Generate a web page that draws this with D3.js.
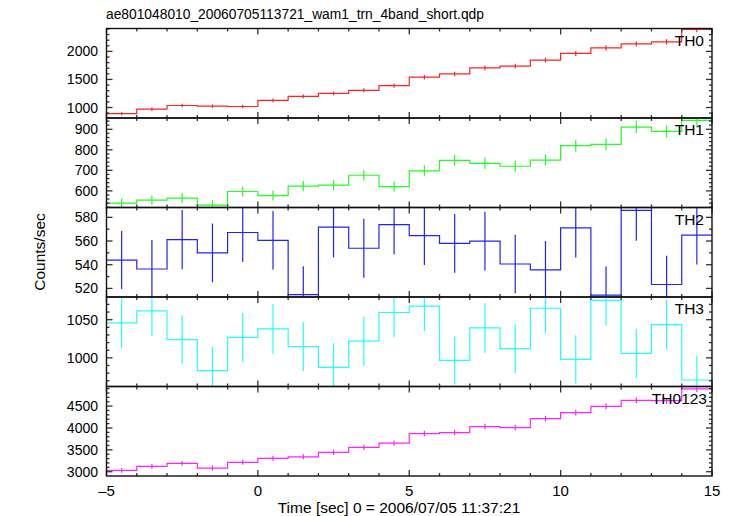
<!DOCTYPE html>
<html><head><meta charset="utf-8">
<script src="https://cdn.jsdelivr.net/npm/d3@7"></script>
<style>body{margin:0;background:#fff}svg{display:block}text{font-family:"Liberation Sans",Arial,sans-serif}</style>
</head><body><svg id="c" width="733" height="516"></svg>
<script>
const title = "ae801048010_20060705113721_wam1_trn_4band_short.qdp";
const xLabel = "Time [sec] 0 = 2006/07/05 11:37:21";
const yLabel = "Counts/sec";
const binStart = [-5,-4,-3,-2,-1,0,1,2,3,4,5,6,7,8,9,10,11,12,13,14];
const binWidth = 1;
const xTicks = [-5,0,5,10,15];

const panelNames = ["TH0","TH1","TH2","TH3","TH0123"];
const th0 = [892,970,1036,1023,1018,1126,1198,1252,1306,1389,1540,1599,1707,1738,1845,1964,2061,2133,2169,2390];
const th0Err = [30,31,32,32,32,34,35,35,36,37,39,40,41,42,43,44,45,46,47,49];
const th1 = [540,555,565,531,597,577,623,628,676,621,697,749,734,720,750,820,827,911,890,943];
const th1Err = [23,24,24,23,24,24,25,25,26,25,26,27,27,27,27,29,29,30,30,31];
const th2 = [543.9,536.4,561.1,550,567.2,560.6,514.7,571.7,553.9,573.9,564.5,558,560,540.6,535.6,571.1,514.4,585.8,523.3,565];
const th2Err = [24.5,24.5,25,24.7,25,24.7,24,25.5,24.8,25,24.8,24.8,24.8,24.6,24.5,25,24,25.5,24.3,24.8];
const th3 = [1045.7,1061.6,1023.8,983.2,1026.7,1038,1014.7,987.6,1022,1059.4,1067.7,996.6,1039.3,1012,1065,998,1075.4,1006,1043.5,971];
const th3Err = [32.5,33,32,31.5,32,32.5,32,31.5,32,32.5,33,31.5,32.5,32,33,31.5,33,32,32.5,31.5];
const th0123 = [3032,3123,3191,3084,3214,3305,3341,3441,3555,3652,3873,3895,4032,4009,4214,4350,4493,4630,4623,4895];
const th0123Err = [55,56,56,56,57,58,58,59,60,60,62,62,64,63,65,66,67,68,68,70];

const yDomains = [[813,2408],[519,955],[512.75,588.3],[962.5,1079.7],[2902,4948]];
const yMajor = [[1000,1500,2000],[600,700,800,900],[520,540,560,580],[1000,1050],[3000,3500,4000,4500]];
const yMinorStep = [100,20,10,10,100];
const colors = ["#ff2222","#22ff22","#2222ff","#22ffff","#ff22ff"];

const series = [th0,th1,th2,th3,th0123];
const errs = [th0Err,th1Err,th2Err,th3Err,th0123Err];

const svg = d3.select("#c");
const L = 106.5, R = 712, T = 28.5, B = 476;
const ph = (B - T) / 5;
const x = d3.scaleLinear().domain([-5,15]).range([L,R]);

svg.append("text").attr("x",106).attr("y",19).attr("font-size",13.8).text(title);

const defs = svg.append("defs");

series.forEach((vals,i)=>{
  const top = T + i*ph, bot = top + ph;
  const y = d3.scaleLinear().domain(yDomains[i]).range([bot, top]);
  const g = svg.append("g");
  defs.append("clipPath").attr("id","cp"+i).append("rect")
    .attr("x",L).attr("y",top).attr("width",R-L).attr("height",ph);
  const dg = g.append("g").attr("clip-path","url(#cp"+i+")");
  const pts = [];
  vals.forEach((v,k)=>{ pts.push([x(binStart[k]), y(v)]); pts.push([x(binStart[k]+binWidth), y(v)]); });
  dg.append("path").attr("d", d3.line()(pts)).attr("fill","none")
    .attr("stroke",colors[i]).attr("stroke-width",1.2);
  dg.selectAll("line.e").data(vals).join("line")
    .attr("x1",(v,k)=>x(binStart[k]+binWidth/2)).attr("x2",(v,k)=>x(binStart[k]+binWidth/2))
    .attr("y1",(v,k)=>y(v-errs[i][k])).attr("y2",(v,k)=>y(v+errs[i][k]))
    .attr("stroke",colors[i]).attr("stroke-width",1.2);
  const xt = d3.range(-5,16,1);
  xt.forEach(t=>{
    const len = (t % 5 === 0) ? 6 : 3;
    g.append("line").attr("x1",x(t)).attr("x2",x(t)).attr("y1",bot).attr("y2",bot-len).attr("stroke","#333").attr("stroke-width",1.3);
    g.append("line").attr("x1",x(t)).attr("x2",x(t)).attr("y1",top).attr("y2",top+len).attr("stroke","#333").attr("stroke-width",1.3);
  });
  const [d0,d1] = yDomains[i];
  const yt = d3.range(Math.ceil(d0/yMinorStep[i])*yMinorStep[i], d1, yMinorStep[i]);
  yt.forEach(t=>{
    const major = yMajor[i].some(m=>Math.abs(m-t)<1e-6);
    const len = major ? 6 : 3;
    g.append("line").attr("x1",L).attr("x2",L+len).attr("y1",y(t)).attr("y2",y(t)).attr("stroke","#333").attr("stroke-width",1.3);
    g.append("line").attr("x1",R).attr("x2",R-len).attr("y1",y(t)).attr("y2",y(t)).attr("stroke","#333").attr("stroke-width",1.3);
  });
  yMajor[i].forEach(t=>{
    g.append("text").attr("x",98).attr("y",y(t)).attr("dy","0.36em").attr("text-anchor","end")
      .attr("font-size",14).text(t);
  });
  g.append("rect").attr("x",L).attr("y",top).attr("width",R-L).attr("height",ph)
    .attr("fill","none").attr("stroke","#111").attr("stroke-width",1.4);
  g.append("text").attr("x",i===4?707:704).attr("y",top+17).attr("text-anchor","end")
    .attr("font-size",15.5).text(panelNames[i]);
});

xTicks.forEach(t=>{
  svg.append("text").attr("x",x(t)).attr("y",496).attr("text-anchor","middle")
    .attr("font-size",15).text(t<0 ? "\u2013"+Math.abs(t) : String(t));
});
svg.append("text").attr("x",399).attr("y",513).attr("text-anchor","middle").attr("font-size",15.5).text(xLabel);
svg.append("text").attr("transform","translate(45,252) rotate(-90)").attr("text-anchor","middle").attr("font-size",15.5).text(yLabel);
</script></body></html>
